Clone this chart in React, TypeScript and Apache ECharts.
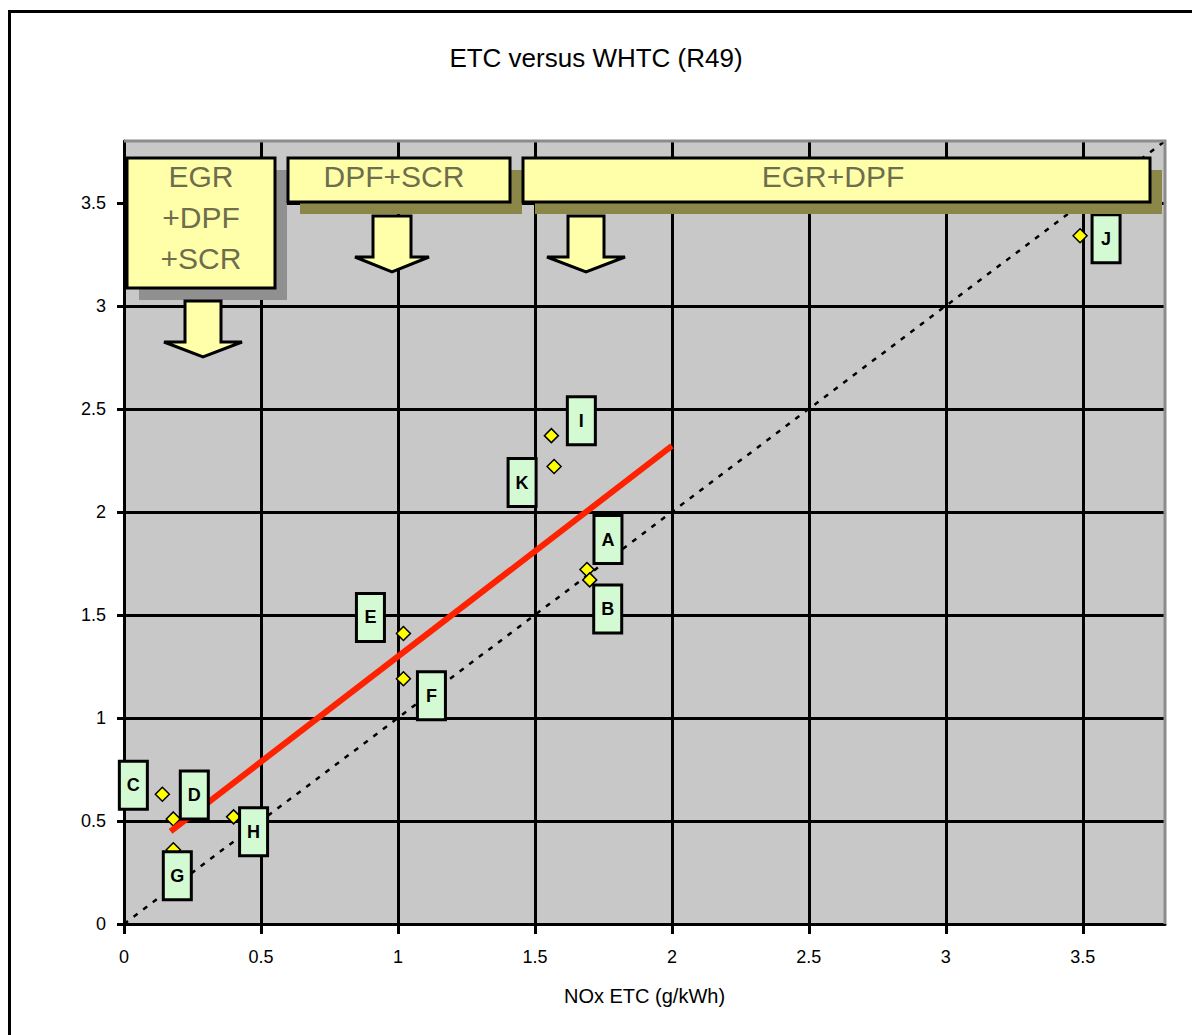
import React, { useEffect, useRef } from "react";
import * as echarts from "echarts";

// ---- data ----
const pointNames = ["J", "I", "K", "A", "B", "E", "F", "C", "D", "G", "H"];
const noxEtc = [3.49, 1.56, 1.57, 1.69, 1.7, 1.02, 1.02, 0.14, 0.18, 0.18, 0.4];
const noxWhtc = [3.34, 2.37, 2.22, 1.72, 1.67, 1.41, 1.19, 0.63, 0.51, 0.36, 0.52];
const regressionX = [0.17, 2.0];
const regressionY = [0.45, 2.32];
const parityX = [0, 3.8];
const parityY = [0, 3.8];
const axisTicks = [0, 0.5, 1, 1.5, 2, 2.5, 3, 3.5];
const groupLabels = ["EGR\n+DPF\n+SCR", "DPF+SCR", "EGR+DPF"];

// ---- layout (label box offsets in px, relative to point) ----
const labelOffsets: number[][] = [
  [26, 3], [30, -15], [-32, 16], [21, -30], [18, 29], [-33, -16],
  [28, 17], [-29, -9], [21, -24], [4, 26], [20, 15],
];

const FONT = '"Liberation Sans", Arial, sans-serif';
const BOX_FILL = "#ffffaa";
const BOX_TEXT = "#6e6e4c";

function arrow(cx: number, top: number, headY: number, tip: number, shaftHalf: number, headHalf: number) {
  return {
    type: "polygon",
    z: 10,
    silent: true,
    shape: {
      points: [
        [cx - shaftHalf, top], [cx + shaftHalf, top], [cx + shaftHalf, headY],
        [cx + headHalf, headY], [cx, tip], [cx - headHalf, headY], [cx - shaftHalf, headY],
      ],
    },
    style: { fill: BOX_FILL, stroke: "#000", lineWidth: 3 },
  };
}

function box(x: number, y: number, w: number, h: number, shadow: string, text: string, tx: number, ty: number, lh: number) {
  return {
    type: "group",
    z: 10,
    silent: true,
    children: [
      { type: "rect", z: 10, shape: { x: x + 12, y: y + 12, width: w, height: h }, style: { fill: shadow } },
      { type: "rect", z: 11, shape: { x, y, width: w, height: h }, style: { fill: BOX_FILL, stroke: "#000", lineWidth: 3 } },
      {
        type: "text", z: 12, x: tx, y: ty,
        style: { text, fontSize: 30, fontFamily: FONT, fill: BOX_TEXT, align: "center", verticalAlign: "middle", lineHeight: lh },
      },
    ],
  };
}

export default function App() {
  const ref = useRef<HTMLDivElement>(null);
  useEffect(() => {
    if (!ref.current) return;
    const chart = echarts.init(ref.current, null, { renderer: "svg" });
    const points = pointNames.map((n, i) => ({ name: n, value: [noxEtc[i], noxWhtc[i]] }));
    const labelPoints = pointNames.map((n, i) => ({
      name: n,
      value: [noxEtc[i], noxWhtc[i]],
      label: { offset: labelOffsets[i] },
    }));
    const axisCommon = {
      type: "value",
      min: 0,
      max: 3.8,
      interval: 0.5,
      axisLine: { show: true, onZero: false, lineStyle: { color: "#000", width: 3 } },
      splitLine: { show: true, lineStyle: { color: "#000", width: 3 } },
      axisTick: { show: true, customValues: axisTicks, lineStyle: { color: "#000", width: 3 } },
    };
    chart.setOption({
      animation: false,
      backgroundColor: "#ffffff",
      title: {
        text: "ETC versus WHTC (R49)",
        left: "center",
        top: 40,
        textStyle: { fontSize: 26, fontWeight: "normal", color: "#000", fontFamily: FONT },
      },
      grid: {
        left: 124, right: 27, top: 141, bottom: 111,
        show: true, backgroundColor: "#c8c8c8", borderWidth: 0,
      },
      xAxis: {
        ...axisCommon,
        axisTick: { ...axisCommon.axisTick, length: 10 },
        axisLabel: { customValues: axisTicks, fontSize: 18, color: "#000", fontFamily: FONT, margin: 24 },
        name: "NOx ETC (g/kWh)",
        nameLocation: "middle",
        nameGap: 62,
        nameTextStyle: { fontSize: 20, color: "#000", fontFamily: FONT },
      },
      yAxis: {
        ...axisCommon,
        axisTick: { ...axisCommon.axisTick, length: 7 },
        axisLabel: { customValues: axisTicks, fontSize: 18, color: "#000", fontFamily: FONT, margin: 18 },
      },
      series: [
        {
          type: "line",
          z: 2,
          data: parityX.map((x, i) => [x, parityY[i]]),
          symbol: "none",
          lineStyle: { color: "#000", width: 2.5, type: [5, 7] },
          silent: true,
        },
        {
          type: "scatter",
          z: 3,
          data: points,
          symbol: "diamond",
          symbolSize: 14,
          itemStyle: { color: "#ffff00", borderColor: "#000", borderWidth: 1.5, opacity: 1 },
        },
        {
          type: "line",
          z: 4,
          data: regressionX.map((x, i) => [x, regressionY[i]]),
          symbol: "none",
          lineStyle: { color: "#ff2200", width: 6 },
          silent: true,
        },
        {
          type: "scatter",
          z: 6,
          data: labelPoints,
          symbolSize: 1,
          itemStyle: { color: "rgba(0,0,0,0)", opacity: 1 },
          silent: true,
          label: {
            show: true,
            position: "inside",
            formatter: "{b}",
            fontSize: 18,
            fontWeight: "bold",
            fontFamily: FONT,
            color: "#000",
            opacity: 1,
            backgroundColor: "#d4fad4",
            borderColor: "#000",
            borderWidth: 3,
            width: 25,
            align: "center",
            verticalAlign: "middle",
            lineHeight: 18,
            padding: [7, 0, 20, 0],
          },
        },
      ],
      graphic: [
        {
          type: "rect", z: 0, silent: true,
          shape: { x: 9.5, y: 11.5, width: 1300, height: 1100 },
          style: { fill: "none", stroke: "#000", lineWidth: 3 },
        },
        {
          type: "polyline", z: 20, silent: true,
          shape: { points: [[124, 141], [1165, 141], [1165, 924]] },
          style: { fill: "none", stroke: "#8c8c8c", lineWidth: 3 },
        },
        box(127, 158, 148, 130, "#909090", groupLabels[0], 201, 217, 41),
        box(288, 158, 222, 44, "#8a8748", groupLabels[1], 394, 176, 34),
        box(523, 158, 627, 44, "#8a8748", groupLabels[2], 833, 176, 34),
        arrow(203, 301, 342, 357, 18, 39),
        arrow(392, 216, 257, 272, 19, 37),
        arrow(586, 216, 257, 272, 18, 39),
      ],
    });
    return () => chart.dispose();
  }, []);
  return (
    <div
      ref={ref}
      style={{ position: "absolute", left: 0, top: 0, width: 1192, height: 1035 }}
    />
  );
}
